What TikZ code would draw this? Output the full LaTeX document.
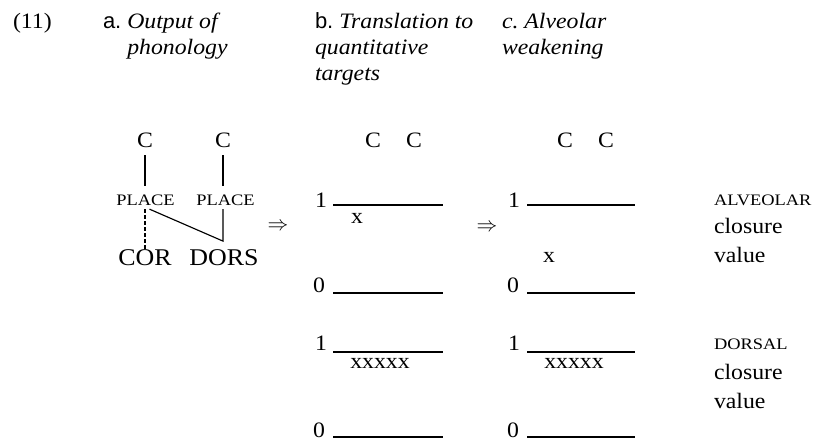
\documentclass[tikz,border=0pt]{standalone}
\usepackage{fontspec}
\setmainfont[FakeStretch=1.08]{Liberation Serif}
\newfontfamily\hdrsans{Liberation Sans}
\newfontfamily\scfont[FakeStretch=1.15]{Liberation Serif}
\usetikzlibrary{calc}
\begin{document}
\begin{tikzpicture}[x=1pt,y=-1pt,
  every node/.style={inner sep=0pt, outer sep=0pt},
  hdr/.style={anchor=base west, font=\fontsize{22}{26}\selectfont},
  body/.style={anchor=base, font=\fontsize{22}{26}\selectfont},
  bodyw/.style={anchor=base west, font=\fontsize{22}{26}\selectfont},
  big/.style={anchor=base, font=\fontsize{24}{28}\selectfont},
  smallcaps/.style={anchor=base, font=\fontsize{16}{20}\scfont},
  dbl/.style={anchor=center, font=\fontsize{20}{24}\selectfont},
  tree/.style={line width=1.15pt},
  scaleline/.style={line width=1.1pt},
]
\useasboundingbox (0,0) rectangle (813,441);

% headers
\node[hdr] (h11) at (13,29) {(11)};
\node[hdr] (ha) at (103,29) {{\hdrsans a.}~\textit{Output of}};
\node[hdr] (ha2) at (103,55) {\phantom{{\hdrsans a.}~}\textit{phonology}};
\node[hdr] (hb) at (315,29) {{\hdrsans b.}~\textit{Translation to}};
\node[hdr] (hb2) at (315,55) {\textit{quantitative}};
\node[hdr] (hb3) at (315,81) {\textit{targets}};
\node[hdr] (hc) at (502,29) {\textit{c.~Alveolar}};
\node[hdr] (hc2) at (502,55) {\textit{weakening}};

% tree
\node[body] (c1) at (145,147) {C};
\node[body] (c2) at (223,147) {C};
\node[smallcaps] (p1) at (145.5,205) {PLACE};
\node[smallcaps] (p2) at (225.5,205) {PLACE};
\node[big] (cor) at (145,265) {COR};
\node[big] (dors) at (224,265) {DORS};
\draw[tree, shorten <=8pt, shorten >=8pt] (c1.south) -- (c1.south |- p1.north);
\draw[tree, shorten <=8pt, shorten >=8pt] (c2.south) -- (c2.south |- p2.north);
\draw[tree, dash pattern=on 3.5pt off 2.5pt, shorten <=4pt] (p1.south -| cor) -- (cor.north);
\coordinate (j) at ($(dors.north -| c2)+(0,-8)$);
\draw[tree] ($(p1.south)+(4,4)$) -- (j) -- ($(p2.south -| c2)+(0,4)$);
\node[dbl] (ar1) at (278,227) {$\Rightarrow$};

% column b
\node[body] (bc1) at (373,147) {C};
\node[body] (bc2) at (414,147) {C};
\node[body] (b1a) at (321,207) {1};
\coordinate (b1aL) at (333,205); \coordinate (b1aR) at (443,205);
\draw[scaleline] (b1aL) -- (b1aR);
\node[body] (bxa) at (357,223) {x};
\node[body] (b0a) at (319,292) {0};
\coordinate (b0aL) at (333,293); \coordinate (b0aR) at (443,293);
\draw[scaleline] (b0aL) -- (b0aR);
\node[body] (b1d) at (321,350) {1};
\coordinate (b1dL) at (333,352); \coordinate (b1dR) at (443,352);
\draw[scaleline] (b1dL) -- (b1dR);
\node[body] (bxd) at (380,368) {xxxxx};
\node[body] (b0d) at (319,437) {0};
\coordinate (b0dL) at (333,437); \coordinate (b0dR) at (443,437);
\draw[scaleline] (b0dL) -- (b0dR);

\node[dbl] (ar2) at (487,228) {$\Rightarrow$};

% column c
\node[body] (cc1) at (565,147) {C};
\node[body] (cc2) at (606,147) {C};
\node[body] (c1a) at (514,207) {1};
\coordinate (c1aL) at (527,205); \coordinate (c1aR) at (635,205);
\draw[scaleline] (c1aL) -- (c1aR);
\node[body] (cxa) at (549,262) {x};
\node[body] (c0a) at (513,292) {0};
\coordinate (c0aL) at (527,293); \coordinate (c0aR) at (635,293);
\draw[scaleline] (c0aL) -- (c0aR);
\node[body] (c1d) at (514,350) {1};
\coordinate (c1dL) at (527,352); \coordinate (c1dR) at (635,352);
\draw[scaleline] (c1dL) -- (c1dR);
\node[body] (cxd) at (574,368) {xxxxx};
\node[body] (c0d) at (513,437) {0};
\coordinate (c0dL) at (527,437); \coordinate (c0dR) at (635,437);
\draw[scaleline] (c0dL) -- (c0dR);

% right labels
\node[smallcaps, anchor=base west] (alv) at (714,205) {ALVEOLAR};
\node[bodyw] (alv2) at (714,233) {closure};
\node[bodyw] (alv3) at (714,262) {value};
\node[smallcaps, anchor=base west] (dor) at (714,349) {DORSAL};
\node[bodyw] (dor2) at (714,379) {closure};
\node[bodyw] (dor3) at (714,408) {value};
\end{tikzpicture}
\end{document}
